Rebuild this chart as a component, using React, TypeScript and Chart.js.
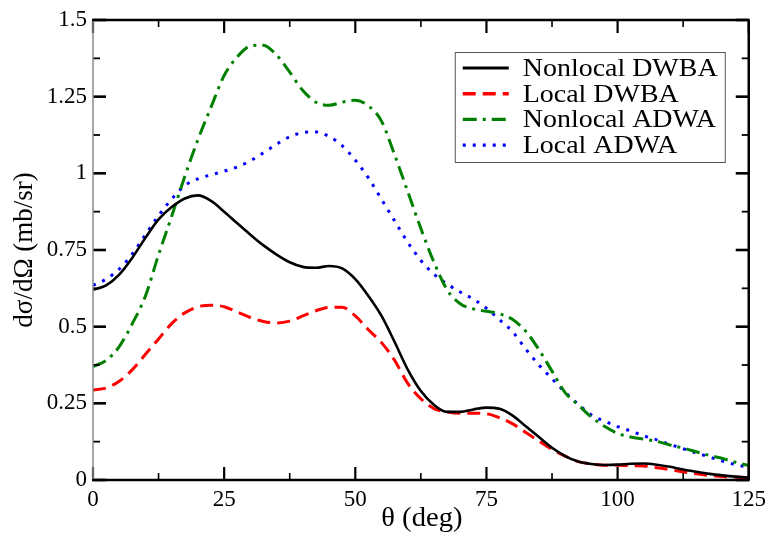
import { useEffect, useRef } from "react";
import { Chart, registerables } from "chart.js";

Chart.register(...registerables);

const thetaDeg = [
  0, 2.5, 5, 7.5, 10, 12.5, 15, 17.5, 20, 22.5, 25, 27.5, 30, 32.5, 35, 37.5, 40, 42.5, 45, 47.5,
  50, 52.5, 55, 57.5, 60, 62.5, 65, 67.5, 70, 72.5, 75, 77.5, 80, 82.5, 85, 87.5, 90, 92.5, 95, 97.5,
  100, 102.5, 105, 107.5, 110, 112.5, 115, 117.5, 120, 122.5, 125,
];

const nonlocalDWBA = [
  0.62, 0.635, 0.67, 0.725, 0.79, 0.85, 0.89, 0.918, 0.928, 0.91, 0.875, 0.837, 0.8, 0.765, 0.735, 0.71, 0.695, 0.692, 0.698, 0.69,
  0.655, 0.6, 0.535, 0.45, 0.36, 0.29, 0.245, 0.222, 0.222, 0.23, 0.236, 0.232, 0.21, 0.175, 0.14, 0.105, 0.078, 0.06, 0.052, 0.049,
  0.05, 0.053, 0.054, 0.05, 0.043, 0.034, 0.027, 0.02, 0.015, 0.011, 0.008,
];

const localDWBA = [
  0.293, 0.3, 0.322, 0.36, 0.41, 0.46, 0.51, 0.545, 0.565, 0.57, 0.565, 0.548, 0.53, 0.517, 0.512, 0.518, 0.535, 0.552, 0.563, 0.563,
  0.535, 0.49, 0.448, 0.39, 0.315, 0.265, 0.233, 0.222, 0.218, 0.218, 0.216, 0.203, 0.183, 0.155, 0.127, 0.1, 0.078, 0.06, 0.052, 0.048,
  0.048, 0.047, 0.046, 0.04, 0.034, 0.026, 0.02, 0.015, 0.011, 0.009, 0.007,
];

const nonlocalADWA = [
  0.37, 0.39, 0.435, 0.51, 0.6, 0.735, 0.86, 0.99, 1.11, 1.216, 1.319, 1.38, 1.415, 1.418, 1.385, 1.33, 1.27, 1.232, 1.222, 1.232,
  1.238, 1.22, 1.17, 1.06, 0.94, 0.82, 0.71, 0.62, 0.575, 0.558, 0.55, 0.542, 0.523, 0.485, 0.425, 0.355, 0.285, 0.245, 0.205, 0.175,
  0.152, 0.14, 0.133, 0.126, 0.114, 0.104, 0.092, 0.08, 0.07, 0.058, 0.047,
];

const localADWA = [
  0.635, 0.655, 0.688, 0.737, 0.8, 0.862, 0.916, 0.96, 0.982, 0.995, 1.007, 1.021, 1.041, 1.067, 1.095, 1.119, 1.133, 1.135, 1.12, 1.09,
  1.043, 0.985, 0.915, 0.845, 0.775, 0.716, 0.671, 0.639, 0.613, 0.59, 0.56, 0.523, 0.483, 0.427, 0.375, 0.33, 0.286, 0.247, 0.212, 0.192,
  0.174, 0.16, 0.144, 0.131, 0.116, 0.102, 0.088, 0.075, 0.062, 0.05, 0.041,
];

const seriesNames = ["Nonlocal DWBA", "Local DWBA", "Nonlocal ADWA", "Local ADWA"];
const xTitle = "θ (deg)";
const yTitle = "dσ/dΩ (mb/sr)";

const FONT = '"Liberation Serif", "Times New Roman", Tinos, Times, "DejaVu Serif", serif';

const styles = [
  { color: "#000000", width: 2.6, dash: [] as number[] },
  { color: "#ff0000", width: 3, dash: [13, 7] },
  { color: "#008000", width: 3, dash: [14, 6, 3, 6] },
  { color: "#0000ff", width: 3, dash: [3, 7] },
];

const framePlugin = {
  id: "frame",
  afterDatasetsDraw(chart: any) {
    const { ctx, chartArea, scales } = chart;
    const { left, right, top, bottom } = chartArea;
    const xs = scales.x;
    const ys = scales.y;
    const line = (x1: number, y1: number, x2: number, y2: number) => {
      ctx.beginPath();
      ctx.moveTo(x1, y1);
      ctx.lineTo(x2, y2);
      ctx.stroke();
    };
    ctx.save();
    ctx.setLineDash([]);
    ctx.strokeStyle = "#000";
    for (let i = 0; i <= 10; i++) {
      const v = i * 12.5;
      const px = xs.getPixelForValue(v);
      const major = i % 2 === 0;
      const len = major ? 13 : 7;
      ctx.lineWidth = major ? 2.2 : 1.6;
      line(px, bottom, px, bottom - len);
      line(px, top, px, top + len);
    }
    for (let i = 0; i <= 12; i++) {
      const v = i * 0.125;
      const py = ys.getPixelForValue(v);
      const major = i % 2 === 0;
      const len = major ? 13 : 7;
      ctx.lineWidth = major ? 2.6 : 1.8;
      line(left, py, left + len, py);
      line(right, py, right - len, py);
    }
    ctx.lineWidth = 2.5;
    ctx.strokeStyle = "#000";
    line(left - 1, top, right + 1, top);
    line(left - 1, bottom, right + 1, bottom);
    line(right, top, right, bottom);
    ctx.lineWidth = 1.5;
    ctx.strokeStyle = "#8a8a8a";
    line(left, top + 1, left, bottom - 1);

    // legend box
    const bx = right - 294;
    const by = top + 32;
    const bw = 270;
    const bh = 110;
    ctx.fillStyle = "#fff";
    ctx.fillRect(bx, by, bw, bh);
    ctx.lineWidth = 1;
    ctx.strokeStyle = "#555";
    ctx.strokeRect(bx + 0.5, by + 0.5, bw, bh);
    ctx.textBaseline = "middle";
    ctx.textAlign = "left";
    seriesNames.forEach((name, i) => {
      const ry = by + 16 + i * 25.7;
      const st = styles[i];
      ctx.strokeStyle = st.color;
      ctx.lineWidth = st.width + 0.4;
      ctx.setLineDash(st.dash);
      line(bx + 8, ry, bx + 54, ry);
      ctx.setLineDash([]);
      ctx.fillStyle = "#000";
      ctx.save();
      ctx.translate(bx + 68, ry + 1);
      ctx.scale(1.075, 1);
      ctx.font = `26px ${FONT}`;
      ctx.fillText(name, 0, 0);
      ctx.restore();
    });

    // axis titles
    ctx.fillStyle = "#000";
    ctx.textAlign = "center";
    ctx.textBaseline = "middle";
    ctx.save();
    ctx.translate((left + right) / 2 + 1, bottom + 39);
    ctx.scale(1.06, 1);
    ctx.font = `27px ${FONT}`;
    ctx.fillText(xTitle, 0, 0);
    ctx.restore();
    ctx.save();
    ctx.translate(25, (top + bottom) / 2);
    ctx.rotate(-Math.PI / 2);
    ctx.font = `27px ${FONT}`;
    ctx.fillText(yTitle, 0, 0);
    ctx.restore();
    ctx.restore();
  },
};

export default function App() {
  const canvasRef = useRef<HTMLCanvasElement | null>(null);

  useEffect(() => {
    if (!canvasRef.current) return;
    const all = [nonlocalDWBA, localDWBA, nonlocalADWA, localADWA];
    const chart = new Chart(canvasRef.current, {
      type: "line",
      data: {
        datasets: all.map((arr, i) => ({
          label: seriesNames[i],
          data: thetaDeg.map((t, k) => ({ x: t, y: arr[k] })),
          borderColor: styles[i].color,
          borderWidth: styles[i].width,
          borderDash: styles[i].dash,
          pointRadius: 0,
          fill: false,
          cubicInterpolationMode: "monotone" as const,
        })),
      },
      options: {
        animation: false,
        responsive: true,
        maintainAspectRatio: false,
        layout: { padding: { left: 0, right: 21, top: 20, bottom: 0 } },
        plugins: { legend: { display: false }, tooltip: { enabled: false } },
        scales: {
          x: {
            type: "linear",
            min: 0,
            max: 125,
            ticks: {
              stepSize: 25,
              padding: 6,
              color: "#000",
              font: { family: FONT, size: 23 },
              maxRotation: 0,
            },
            grid: { display: false, drawTicks: false },
            border: { display: false },
            afterFit: (s: any) => {
              s.height = 58;
            },
          },
          y: {
            type: "linear",
            min: 0,
            max: 1.5,
            ticks: {
              stepSize: 0.25,
              padding: 6,
              color: "#000",
              font: { family: FONT, size: 23 },
              callback: (v: any) => String(Number(Number(v).toFixed(2))),
            },
            grid: { display: false, drawTicks: false },
            border: { display: false },
            afterFit: (s: any) => {
              s.width = 93;
            },
          },
        },
      },
      plugins: [framePlugin],
    });
    let alive = true;
    if (document.fonts && document.fonts.load) {
      document.fonts
        .load(`26px "Liberation Serif"`)
        .then(() => {
          if (alive) chart.update();
        })
        .catch(() => {});
    }
    return () => {
      alive = false;
      chart.destroy();
    };
  }, []);

  return (
    <div style={{ position: "fixed", left: 0, top: 0, width: 772, height: 538, background: "#fff" }}>
      <canvas ref={canvasRef} />
      <span
        aria-hidden="true"
        style={{ position: "absolute", left: 0, top: 0, fontFamily: FONT, fontSize: 12, color: "transparent", pointerEvents: "none" }}
      >
        θ
      </span>
    </div>
  );
}
